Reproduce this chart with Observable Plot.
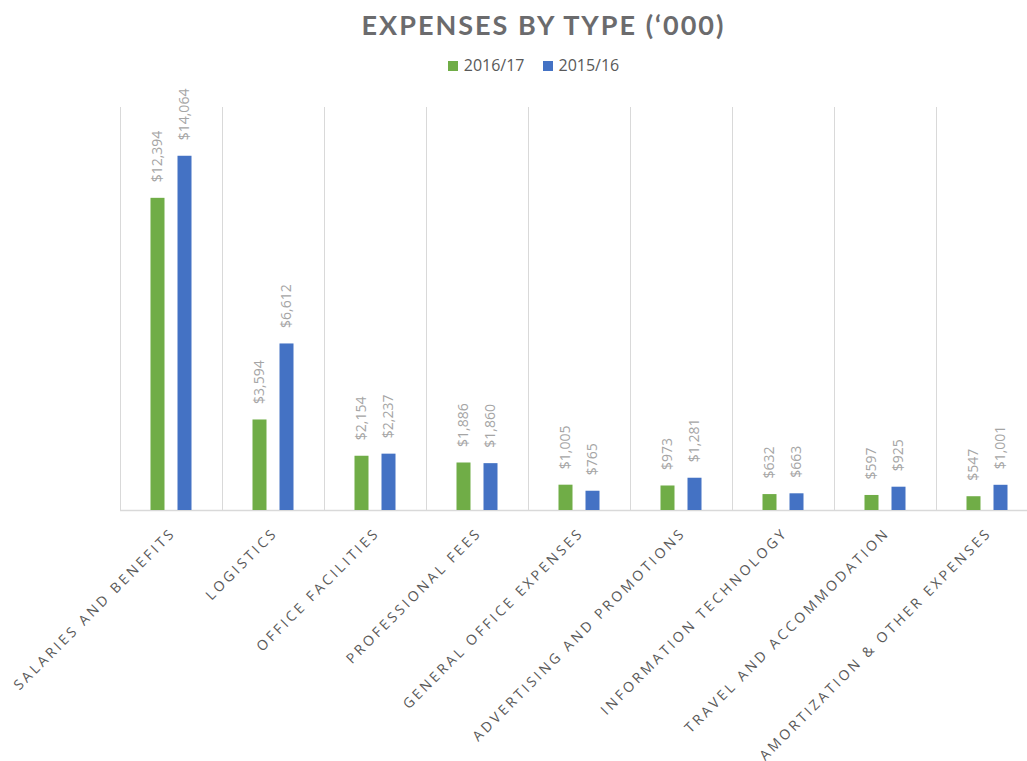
<!DOCTYPE html>
<html>
<head>
<meta charset="utf-8">
<script src="https://cdn.jsdelivr.net/npm/d3@7"></script>
<script src="https://cdn.jsdelivr.net/npm/@observablehq/plot@0.6"></script>
<style>
  html, body { margin: 0; padding: 0; background: #fff; width: 1027px; height: 761px; overflow: hidden; }
  #header { position: relative; height: 78px; width: 1027px; }
  #title { position: absolute; left: 0; width: 1087px; top: 8px; text-align: center;
           font-family: Lato, "Open Sans", sans-serif; font-weight: 700; font-size: 27px;
           letter-spacing: 2px; color: #6b6b6d; }
  #legend { position: absolute; left: 0; width: 1067px; top: 54px; text-align: center;
            font-family: "Open Sans", sans-serif; font-size: 16px; color: #595959; }
  .sw { display: inline-block; width: 10px; height: 10px; margin-right: 6px; vertical-align: 0px; }
  .item { display: inline-block; margin: 0 9px; }
</style>
</head>
<body>
<div id="header">
  <div id="title">EXPENSES BY TYPE (‘000)</div>
  <div id="legend"></div>
</div>
<div id="chart"></div>
<script>
const categories = [
  "Salaries and Benefits",
  "Logistics",
  "Office Facilities",
  "Professional Fees",
  "General Office Expenses",
  "Advertising and Promotions",
  "Information Technology",
  "Travel and Accommodation",
  "Amortization & Other Expenses"
];
const seriesNames = ["2016/17", "2015/16"];
const values2016 = [12394, 3594, 2154, 1886, 1005, 973, 632, 597, 547];
const values2015 = [14064, 6612, 2237, 1860, 765, 1281, 663, 925, 1001];
const seriesColors = ["#70AD47", "#4472C4"];

const data = [];
categories.forEach((c, i) => {
  data.push({category: c, series: seriesNames[0], value: values2016[i]});
  data.push({category: c, series: seriesNames[1], value: values2015[i]});
});
const data16 = data.filter(d => d.series === seriesNames[0]);
const data15 = data.filter(d => d.series === seriesNames[1]);

// legend
const legend = document.getElementById("legend");
seriesNames.forEach((s, i) => {
  const it = document.createElement("span");
  it.className = "item";
  it.innerHTML = `<span class="sw" style="background:${seriesColors[i]}"></span>${s}`;
  legend.appendChild(it);
});

const band = 102;      // px per category
const barW = 14;
const half = 13.5;     // offset of each bar centre from band centre
const innerGap = band / 2 - half - barW / 2;  // 30.5
const outerGap = band - innerGap - barW;     // 57.5
const fmt = d3.format(",");
const labelStyle = {
  text: d => "$" + fmt(d.value), rotate: -90, textAnchor: "start", lineAnchor: "middle",
  dy: -16, fill: "#a5a5a5", fontSize: 14, fontFamily: "Open Sans"
};

const chart = Plot.plot({
  width: 1027,
  height: 683,
  marginLeft: 120,
  marginRight: 0,
  marginTop: 29,
  marginBottom: 251,
  style: {background: "transparent", overflow: "visible"},
  x: {domain: categories, range: [120, 120 + band * categories.length], padding: 0, axis: null},
  y: {domain: [0, 16000], axis: null},
  color: {domain: seriesNames, range: seriesColors},
  marks: [
    Plot.ruleX(categories, {x: d => d, y1: 0, y2: 16000, dx: -band / 2, stroke: "#d9d9d9", strokeWidth: 1}),
    Plot.ruleY([0], {stroke: "#d9d9d9", strokeWidth: 1.5}),
    Plot.barY(data16, {x: "category", y: "value", fill: "series", insetLeft: innerGap, insetRight: outerGap}),
    Plot.barY(data15, {x: "category", y: "value", fill: "series", insetLeft: outerGap, insetRight: innerGap}),
    Plot.text(data16, {x: "category", y: "value", dx: -half, ...labelStyle}),
    Plot.text(data15, {x: "category", y: "value", dx: half, ...labelStyle}),
    Plot.text(categories, {
      x: d => d, y: () => 0, text: d => d.toUpperCase(),
      rotate: -45, textAnchor: "end", lineAnchor: "middle", dx: 2, dy: 20,
      fill: "#595959", fontSize: 14, fontFamily: "Open Sans"
    })
  ]
});
document.getElementById("chart").appendChild(chart);

// letter spacing for the category labels (last text mark)
const textGroups = chart.querySelectorAll('g[aria-label="text"]');
const catGroup = textGroups[textGroups.length - 1];
if (catGroup) catGroup.style.letterSpacing = "3px";
</script>
</body>
</html>
